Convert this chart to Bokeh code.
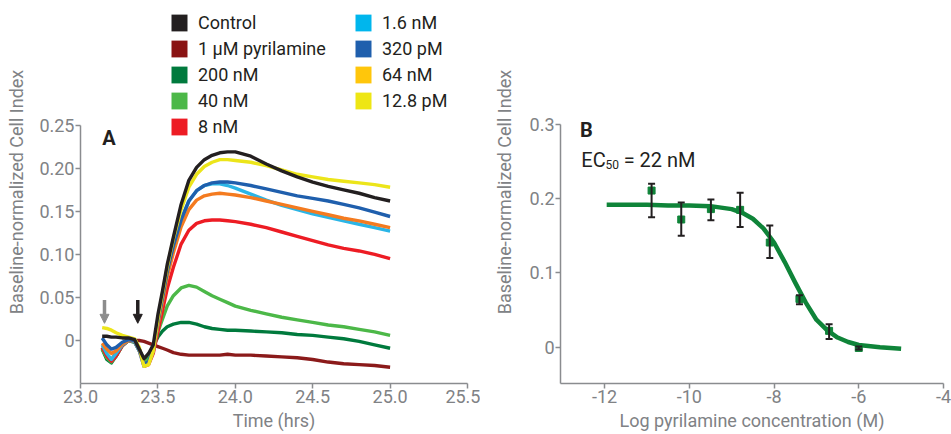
from bokeh.plotting import figure
from bokeh.layouts import row
from bokeh.models import (FixedTicker, Range1d, Legend, LegendItem, Label, Arrow,
                          NormalHead, Whisker, TeeHead, ColumnDataSource)
from bokeh.embed import file_html
from bokeh.resources import INLINE

# ---------------- Panel A data ----------------
time_hrs = [23.14, 23.17, 23.20, 23.23, 23.27, 23.31, 23.35, 23.38, 23.41, 23.44, 23.47,
            23.50, 23.53, 23.56, 23.60, 23.65, 23.70, 23.75, 23.80, 23.85, 23.90, 23.95,
            24.00, 24.10, 24.20, 24.30, 24.40, 24.50, 24.60, 24.70, 24.80, 24.90, 25.00]

control = [0.005, 0.005, 0.004, 0.004, 0.003, 0.003, 0.001, -0.010, -0.021, -0.015, -0.005,
           0.030, 0.058, 0.088, 0.120, 0.158, 0.186, 0.201, 0.210, 0.215, 0.218, 0.219,
           0.219, 0.214, 0.205, 0.197, 0.190, 0.184, 0.179, 0.175, 0.171, 0.166, 0.162]
pyrilamine_1uM = [-0.008, -0.018, -0.022, -0.015, -0.005, 0.000, 0.000, 0.000, -0.001, -0.003, -0.005,
                  -0.007, -0.009, -0.011, -0.014, -0.016, -0.017, -0.017, -0.017, -0.017, -0.017, -0.016,
                  -0.017, -0.017, -0.018, -0.019, -0.020, -0.022, -0.025, -0.027, -0.028, -0.029, -0.031]
nM_200 = [-0.010, -0.022, -0.026, -0.018, -0.006, 0.000, -0.002, -0.012, -0.022, -0.018, -0.006,
          0.004, 0.011, 0.016, 0.019, 0.021, 0.021, 0.019, 0.016, 0.014, 0.013, 0.012,
          0.012, 0.011, 0.010, 0.009, 0.007, 0.006, 0.004, 0.002, -0.001, -0.005, -0.009]
nM_40 = [-0.010, -0.020, -0.025, -0.018, -0.006, 0.000, -0.001, -0.010, -0.025, -0.022, -0.008,
         0.010, 0.025, 0.040, 0.052, 0.061, 0.064, 0.062, 0.057, 0.052, 0.048, 0.044,
         0.040, 0.035, 0.031, 0.027, 0.024, 0.021, 0.018, 0.016, 0.013, 0.010, 0.006]
nM_8 = [-0.008, -0.018, -0.024, -0.018, -0.006, 0.000, -0.001, -0.012, -0.030, -0.028, -0.015,
        0.010, 0.035, 0.060, 0.085, 0.112, 0.128, 0.136, 0.139, 0.140, 0.140, 0.139,
        0.138, 0.135, 0.131, 0.126, 0.121, 0.116, 0.111, 0.107, 0.104, 0.100, 0.095]
nM_1_6 = [-0.005, -0.015, -0.022, -0.015, -0.005, 0.000, -0.001, -0.012, -0.030, -0.027, -0.012,
          0.020, 0.048, 0.078, 0.108, 0.140, 0.162, 0.174, 0.180, 0.182, 0.182, 0.180,
          0.177, 0.170, 0.163, 0.157, 0.152, 0.147, 0.143, 0.139, 0.135, 0.131, 0.127]
pM_320 = [0.003, -0.005, -0.010, -0.008, -0.002, 0.001, 0.000, -0.010, -0.027, -0.025, -0.010,
          0.022, 0.050, 0.080, 0.110, 0.140, 0.162, 0.174, 0.180, 0.183, 0.184, 0.184,
          0.183, 0.180, 0.176, 0.172, 0.168, 0.165, 0.162, 0.158, 0.154, 0.149, 0.144]
nM_64 = [-0.003, -0.010, -0.015, -0.012, -0.004, 0.000, 0.000, -0.010, -0.028, -0.026, -0.012,
         0.018, 0.045, 0.074, 0.102, 0.132, 0.152, 0.163, 0.168, 0.170, 0.171, 0.170,
         0.169, 0.166, 0.162, 0.158, 0.154, 0.150, 0.146, 0.142, 0.139, 0.135, 0.131]
pM_12_8 = [0.015, 0.014, 0.012, 0.009, 0.006, 0.004, 0.002, -0.008, -0.030, -0.028, -0.012,
           0.025, 0.055, 0.085, 0.118, 0.152, 0.178, 0.193, 0.202, 0.207, 0.210, 0.210,
           0.209, 0.207, 0.203, 0.198, 0.193, 0.190, 0.187, 0.185, 0.183, 0.181, 0.178]

series_names = ["Control", "1 µM pyrilamine", "200 nM", "40 nM", "8 nM",
                "1.6 nM", "320 pM", "64 nM", "12.8 pM"]
series_values = [control, pyrilamine_1uM, nM_200, nM_40, nM_8, nM_1_6, pM_320, nM_64, pM_12_8]
line_colors = ["#231f20", "#8b1a1a", "#007a3d", "#4cb848", "#ed1c24",
               "#2bb5e6", "#1f5fad", "#f47b20", "#ece51a"]
swatch_colors = ["#231f20", "#8a1313", "#007a3d", "#4cb848", "#ed1c24",
                 "#00b6ed", "#1f5fad", "#ffc60b", "#eee614"]
draw_order = [1, 2, 3, 4, 5, 7, 6, 8, 0]

arrow_times = [23.155, 23.37]
arrow_colors = ["#8c8c8c", "#231f20"]
arrow_top, arrow_tip = 0.047, 0.020

yA_ticks = [0, 0.05, 0.10, 0.15, 0.20, 0.25]
yA_labels = ["0", "0.05", "0.10", "0.15", "0.20", "0.25"]
xA_ticks = [23.0, 23.5, 24.0, 24.5, 25.0, 25.5]
xA_labels = ["23.0", "23.5", "24.0", "24.5", "25.0", "25.5"]

# ---------------- Panel B data ----------------
log_conc = [-10.89, -10.19, -9.49, -8.80, -8.10, -7.40, -6.70, -6.00]
response = [0.211, 0.172, 0.186, 0.185, 0.141, 0.065, 0.022, -0.001]
resp_upper = [0.220, 0.195, 0.199, 0.208, 0.164, 0.070, 0.031, 0.001]
resp_lower = [0.175, 0.150, 0.171, 0.162, 0.120, 0.058, 0.011, -0.003]
fit_x = [-11.95, -11.5, -11.0, -10.5, -10.0, -9.5, -9.0, -8.75, -8.5, -8.25, -8.0,
         -7.75, -7.5, -7.25, -7.0, -6.75, -6.5, -6.25, -6.0, -5.5, -5.0]
fit_y = [0.192, 0.192, 0.192, 0.191, 0.191, 0.190, 0.186, 0.181, 0.173, 0.160, 0.141,
         0.115, 0.087, 0.060, 0.037, 0.023, 0.013, 0.007, 0.003, 0.000, -0.002]
yB_ticks = [0, 0.1, 0.2, 0.3]
yB_labels = ["0", "0.1", "0.2", "0.3"]
xB_ticks = [-12, -10, -8, -6, -4]
xB_labels = ["-12", "-10", "-8", "-6", "-4"]

FONT = "Roboto"
GRAY = "#808285"
AX = "#8a8c8f"
NAN = float("nan")


def style(p, xt, xl, yt, yl, xlab, ylab, ylab_standoff):
    p.xgrid.visible = False
    p.ygrid.visible = False
    p.outline_line_color = None
    for ax in (p.xaxis[0], p.yaxis[0]):
        ax.axis_line_color = AX
        ax.axis_line_width = 1.5
        ax.major_tick_line_color = AX
        ax.major_tick_line_width = 1.5
        ax.major_tick_out = 5
        ax.major_tick_in = 0
        ax.minor_tick_line_color = None
        ax.major_label_text_font = FONT
        ax.major_label_text_font_size = "18px"
        ax.major_label_text_color = GRAY
        ax.axis_label_text_font = FONT
        ax.axis_label_text_font_size = "18px"
        ax.axis_label_text_font_style = "normal"
        ax.axis_label_text_color = GRAY
        ax.major_label_standoff = 1
    p.xaxis[0].ticker = FixedTicker(ticks=xt)
    p.xaxis[0].major_label_overrides = dict(zip(xt, xl))
    p.yaxis[0].ticker = FixedTicker(ticks=yt)
    p.yaxis[0].major_label_overrides = dict(zip(yt, yl))
    p.xaxis[0].axis_label = xlab
    p.yaxis[0].axis_label = ylab
    p.xaxis[0].axis_label_standoff = 4
    p.yaxis[0].axis_label_standoff = ylab_standoff


# Both frames reach the top of the canvas (so the legend is not clipped);
# the visible y axes are limited to the data span with `bounds`.
# ---------------- Figure A ----------------
pA = figure(width=480, height=434, output_backend="svg", toolbar_location=None,
            x_range=Range1d(23.0, 25.5), y_range=Range1d(-0.0499, 0.3948),
            min_border_left=80, min_border_right=13, min_border_top=0, min_border_bottom=51)
style(pA, xA_ticks, xA_labels, yA_ticks, yA_labels, "Time (hrs)",
      "Baseline-normalized Cell Index", 9)
pA.yaxis[0].bounds = (-0.0499, 0.25)
pA.background_fill_color = None
pA.border_fill_color = None

for i in draw_order:
    pA.line(time_hrs, series_values[i], line_color=line_colors[i], line_width=3.4,
            line_join="round")

for t, c in zip(arrow_times, arrow_colors):
    pA.add_layout(Arrow(x_start=t, y_start=arrow_top, x_end=t, y_end=arrow_tip,
                        line_color=c, line_width=3.5,
                        end=NormalHead(size=9, fill_color=c, line_color=c)))

pA.add_layout(Label(x=23.14, y=0.235, text="A", text_font=FONT, text_font_size="20px",
                    text_font_style="bold", text_color="#231f20", text_baseline="alphabetic"))

items1, items2 = [], []
for k, (nm, sc) in enumerate(zip(series_names, swatch_colors)):
    r = pA.quad(left=[NAN], right=[NAN], top=[NAN], bottom=[NAN], fill_color=sc, line_color=None)
    (items1 if k < 5 else items2).append(LegendItem(label=nm, renderers=[r]))

for items, loc in ((items1, (89, 246)), (items2, (273, 272))):
    leg = Legend(items=items, location=loc, glyph_width=20, glyph_height=21,
                 label_height=21, label_standoff=9, spacing=5, padding=0, margin=0,
                 border_line_alpha=0, background_fill_alpha=0,
                 label_text_font=FONT, label_text_font_size="18px",
                 label_text_color="#231f20")
    pA.add_layout(leg)

# ---------------- Figure B ----------------
pB = figure(width=471, height=434, output_backend="svg", toolbar_location=None,
            x_range=Range1d(-13.04, -4.0), y_range=Range1d(-0.0489, 0.467),
            min_border_left=80, min_border_right=8, min_border_top=0, min_border_bottom=51)
style(pB, xB_ticks, xB_labels, yB_ticks, yB_labels, "Log pyrilamine concentration (M)",
      "Baseline-normalized Cell Index", 12)
pB.yaxis[0].bounds = (-0.0489, 0.3)
pB.background_fill_color = None
pB.border_fill_color = None

GREEN = "#0f8439"
src = ColumnDataSource(dict(x=log_conc, y=response, up=resp_upper, lo=resp_lower))
pB.line(fit_x, fit_y, line_color=GREEN, line_width=4.5, line_join="round")
pB.add_layout(Whisker(base="x", upper="up", lower="lo", source=src, line_color="#231f20",
                      line_width=2, level="overlay",
                      upper_head=TeeHead(size=7, line_color="#231f20", line_width=2),
                      lower_head=TeeHead(size=7, line_color="#231f20", line_width=2)))
pB.scatter("x", "y", source=src, marker="square", size=7, fill_color=GREEN, line_color=GREEN)

pB.add_layout(Label(x=-12.58, y=0.2925, text="B", text_font=FONT, text_font_size="20px",
                    text_font_style="bold", text_color="#231f20", text_baseline="alphabetic"))
pB.add_layout(Label(x=-12.55, y=0.2525, text="EC", text_font=FONT, text_font_size="20px",
                    text_color="#231f20", text_baseline="alphabetic"))
pB.add_layout(Label(x=-11.98, y=0.2455, text="50", text_font=FONT, text_font_size="12px",
                    text_color="#231f20", text_baseline="alphabetic"))
pB.add_layout(Label(x=-11.55, y=0.2525, text="= 22 nM", text_font=FONT, text_font_size="20px",
                    text_color="#231f20", text_baseline="alphabetic"))

layout = row(pA, pB)
open("out.html", "w").write(file_html(layout, INLINE))
